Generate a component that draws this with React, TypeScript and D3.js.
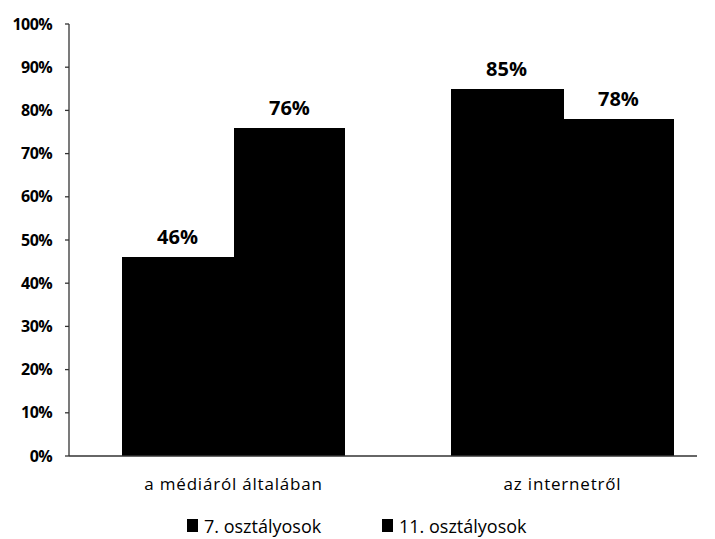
import * as d3 from "d3";
import { useEffect, useRef } from "react";

const categories = ["a médiáról általában", "az internetről"];
const seriesNames = ["7. osztályosok", "11. osztályosok"];
const grade7 = [46, 85];
const grade11 = [76, 78];
const yTicks = [0, 10, 20, 30, 40, 50, 60, 70, 80, 90, 100];

const W = 715;
const H = 539;

export default function App() {
  const ref = useRef<SVGSVGElement>(null);

  useEffect(() => {
    if (!ref.current) return;
    const svg = d3.select(ref.current);
    svg.selectAll("*").remove();

    const left = 69;
    const bottom = 456;
    const top = 24;
    const font = "Open Sans, sans-serif";

    const y = d3.scaleLinear().domain([0, 100]).range([bottom, top]);
    const x0 = d3.scaleBand<string>().domain(categories).range([left, 727]).paddingInner(0.32).paddingOuter(0.16);
    const x1 = d3.scaleBand<number>().domain([0, 1]).range([0, x0.bandwidth()]);

    const rows = categories.map((c, i) => ({ c, vals: [grade7[i], grade11[i]] }));

    const g = svg.append("g");
    rows.forEach((r) => {
      r.vals.forEach((v, j) => {
        const bx = (x0(r.c) ?? 0) + (x1(j) ?? 0);
        g.append("rect")
          .attr("x", bx)
          .attr("y", y(v))
          .attr("width", x1.bandwidth() + (j === 0 ? 1 : 0))
          .attr("height", bottom - y(v))
          .attr("fill", "#000")
          .attr("shape-rendering", "crispEdges");
        g.append("text")
          .attr("x", bx + x1.bandwidth() / 2)
          .attr("y", y(v) - 13)
          .attr("text-anchor", "middle")
          .attr("font-family", font)
          .attr("font-weight", "bold")
          .attr("font-size", 20)
          .text(`${v}%`);
      });
    });

    // y axis
    svg.append("line")
      .attr("x1", left).attr("x2", left)
      .attr("y1", top).attr("y2", bottom)
      .attr("stroke", "#333").attr("stroke-width", 1.3);
    yTicks.forEach((t) => {
      svg.append("line")
        .attr("x1", left - 4).attr("x2", left)
        .attr("y1", y(t)).attr("y2", y(t))
        .attr("stroke", "#333").attr("stroke-width", 1.3);
      svg.append("text")
        .attr("x", 52)
        .attr("y", y(t))
        .attr("dy", "0.35em")
        .attr("text-anchor", "end")
        .attr("font-family", font)
        .attr("font-weight", "bold")
        .attr("font-size", 16)
        .attr("letter-spacing", -0.6)
        .text(`${t}%`);
    });

    // x axis
    svg.append("line")
      .attr("x1", left).attr("x2", 697)
      .attr("y1", bottom).attr("y2", bottom)
      .attr("stroke", "#333").attr("stroke-width", 1.3);
    categories.forEach((c) => {
      svg.append("text")
        .attr("x", (x0(c) ?? 0) + x0.bandwidth() / 2)
        .attr("y", 490)
        .attr("text-anchor", "middle")
        .attr("font-family", font)
        .attr("font-size", 17)
        .attr("letter-spacing", 0.8)
        .text(c);
    });

    // legend
    const legendX = [187, 382];
    seriesNames.forEach((s, i) => {
      svg.append("rect")
        .attr("x", legendX[i]).attr("y", 519)
        .attr("width", 11).attr("height", 13)
        .attr("fill", "#000");
      svg.append("text")
        .attr("x", legendX[i] + 17)
        .attr("y", 533)
        .attr("font-family", font)
        .attr("font-size", 18)
        .text(s);
    });
  }, []);

  return (
    <svg
      ref={ref}
      width={W}
      height={H}
      style={{ position: "absolute", left: 0, top: 0, background: "#fff" }}
    />
  );
}
